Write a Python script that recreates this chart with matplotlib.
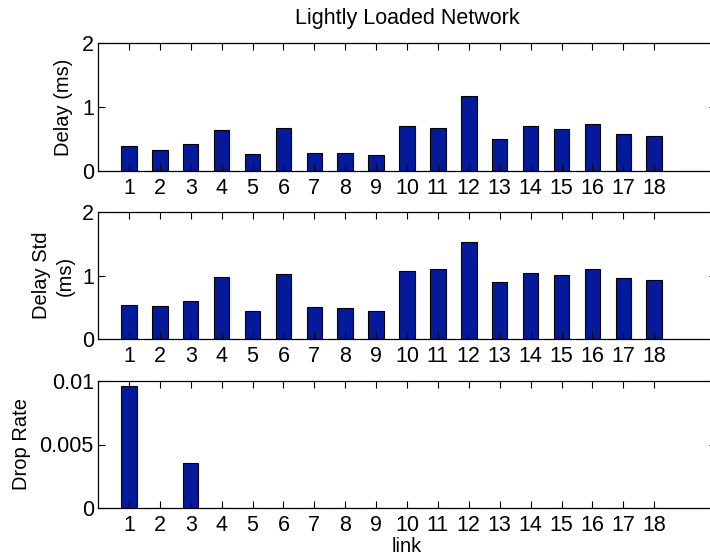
import matplotlib.pyplot as plt

plt.rcParams['font.family'] = ['Liberation Sans', 'DejaVu Sans']

links = list(range(1, 19))
delay = [0.385, 0.323, 0.427, 0.64, 0.26, 0.667, 0.286, 0.281, 0.245,
         0.708, 0.667, 1.177, 0.495, 0.703, 0.651, 0.734, 0.578, 0.552]
delay_std = [0.543, 0.522, 0.60, 0.982, 0.439, 1.018, 0.501, 0.491, 0.439,
             1.065, 1.097, 1.535, 0.893, 1.039, 1.003, 1.097, 0.956, 0.924]
drop_rate = [0.00958, 0.00002, 0.00354, 0.00001, 0.00001, 0.00001, 0.00001, 0.00001, 0.00001,
             0.00001, 0.00001, 0.00001, 0.00001, 0.00001, 0.00001, 0.00001, 0.00001, 0.00001]

bar_color = '#051a9b'
W, H = 710, 558

fig = plt.figure(figsize=(W / 100, H / 100), dpi=100)

# axes boxes in pixels: top, bottom (y from top of image)
boxes = [(43, 171), (212, 339), (381, 508)]
left, right = 98, 716

axes = []
for top, bot in boxes:
    ax = fig.add_axes([left / W, (H - bot) / H, (right - left) / W, (bot - top) / H])
    axes.append(ax)

series = [delay, delay_std, drop_rate]
ylims = [(0, 2), (0, 2), (0, 0.01)]
yticks = [[0, 1, 2], [0, 1, 2], [0, 0.005, 0.01]]
ytlabels = [['0', '1', '2'], ['0', '1', '2'], ['0', '0.005', '0.01']]
ylabels = ['Delay (ms)', 'Delay Std\n(ms)', 'Drop Rate']
ypads = [6, 5, 6]

for ax, vals, yl, yt, ytl, lab, yp in zip(axes, series, ylims, yticks, ytlabels, ylabels, ypads):
    ax.bar(links, vals, width=0.5, color=bar_color, edgecolor='black', linewidth=0.8)
    ax.set_xlim(0, 20)
    ax.set_ylim(*yl)
    ax.set_xticks(links)
    ax.set_xticklabels([str(l) for l in links])
    ax.set_yticks(yt)
    ax.set_yticklabels(ytl)
    ax.tick_params(direction='in', length=5, width=0.8, top=True, right=True,
                   labelsize=15.5, pad=5)
    ax.tick_params(axis='y', pad=3)
    ax.set_ylabel(lab, fontsize=14.5, labelpad=yp, linespacing=1.3)
    for s in ax.spines.values():
        s.set_linewidth(0.9)

axes[0].set_title('Lightly Loaded Network', fontsize=15.5, pad=14)
axes[2].set_xlabel('link', fontsize=14.5, labelpad=1)

plt.savefig('out.png', dpi=100)
